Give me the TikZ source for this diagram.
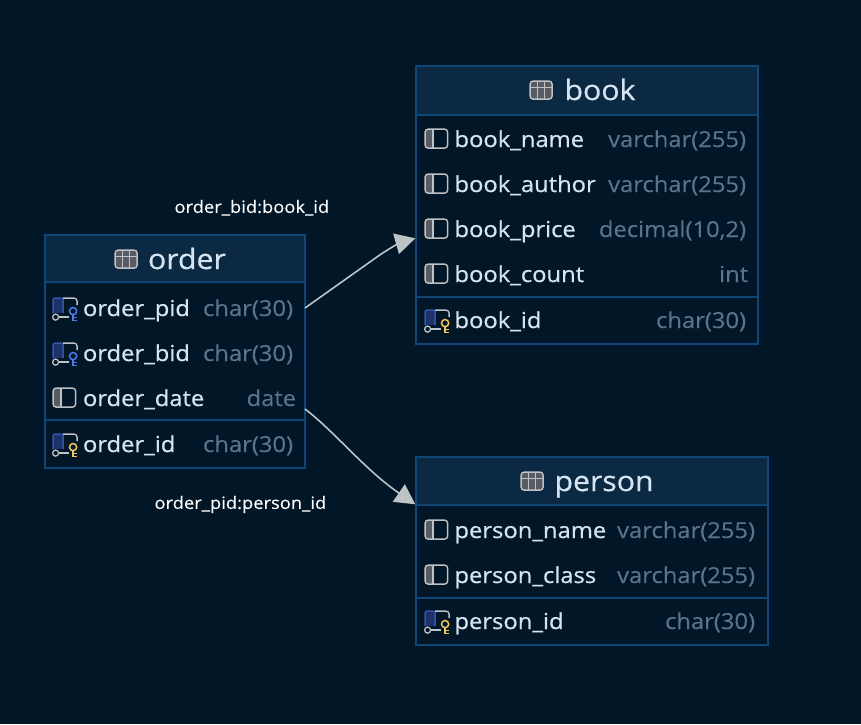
\documentclass[tikz,border=0pt]{standalone}
\usepackage{fontspec}
\setmainfont[FakeStretch=1.08,FakeBold=0.15]{Open Sans}
\newfontfamily\namefont[FakeBold=0.6,FakeStretch=1.08]{Open Sans}
\usetikzlibrary{arrows.meta}
\definecolor{bgc}{RGB}{1,22,39}
\definecolor{headc}{RGB}{11,41,66}
\definecolor{edgec}{RGB}{14,70,118}
\definecolor{txtc}{RGB}{214,227,240}
\definecolor{typec}{RGB}{90,116,140}
\definecolor{icoc}{RGB}{190,193,197}
\definecolor{icof}{RGB}{88,92,98}
\definecolor{bluec}{RGB}{50,84,170}
\definecolor{bandc}{RGB}{30,50,105}
\definecolor{fkc}{RGB}{70,125,235}
\definecolor{pkc}{RGB}{240,200,90}
\definecolor{linec}{RGB}{190,195,198}
\tikzset{
  x=1pt,y=-1pt,
  every pic/.style={shift={(0.8,0.8)}},
  tablebox/.style={draw=edgec,line width=1.4pt,fill=bgc,inner sep=0pt,anchor=north west},
  headbox/.style={draw=edgec,line width=1.4pt,fill=headc,inner sep=0pt,anchor=north west},
  sepline/.style={draw=edgec,line width=1.8pt},
  title/.style={inner sep=0pt,anchor=base west,yshift=-0.7pt,text=txtc,font=\fontsize{28}{30}\selectfont\namefont},
  colname/.style={inner sep=0pt,anchor=base west,yshift=-0.7pt,text=txtc,font=\fontsize{22}{26}\selectfont\namefont},
  coltype/.style={inner sep=0pt,anchor=base east,yshift=-0.7pt,text=typec,font=\fontsize{22}{26}\selectfont},
  rel/.style={inner sep=0pt,anchor=base west,yshift=-1.6pt,text=white,font=\fontsize{17}{20}\selectfont},
  conn/.style={draw=linec,line width=1.6pt,-{Triangle[length=20pt,width=21pt,fill=linec]}},
  colicon/.pic={
    \draw[fill=icof,draw=none,rounded corners=3pt] (0,0) rectangle (9,19);
    \draw[icoc,line width=1.4pt,rounded corners=3pt] (0,0) rectangle (22.5,19);
    \draw[icoc,line width=1.4pt] (8,0) -- (8,19);
  },
  tableicon/.pic={
    \fill[icof,rounded corners=3pt] (0,0) rectangle (22,18);
    \draw[icoc,line width=1.4pt,rounded corners=3pt] (0,0) rectangle (22,18);
    \draw[icoc,line width=1.2pt] (0,6) -- (22,6) (7.3,0) -- (7.3,18) (14.7,0) -- (14.7,18);
  },
  pics/keyicon/.style={code={
    \fill[bandc] (0,0) rectangle (10,15);
    \draw[bluec,line width=1.4pt,rounded corners=1.5pt] (0,15) -- (0,0) -- (10,0) -- (10,15);
    \draw[icoc,line width=1.3pt,rounded corners=3pt] (10,0) -- (24,0) -- (24,7);
    \draw[icoc,line width=1.3pt] (2.5,19) circle (3pt);
    \draw[icoc,line width=1.3pt] (5.5,19) -- (16,19);
    \draw[#1,line width=1.5pt] (20,13) circle (3.6pt);
    \draw[#1,line width=1.5pt] (20,16.6) -- (20,22.5) (20,19.5) -- (24,19.5) (20,22.5) -- (24,22.5);
  }},
}
\begin{document}
\begin{tikzpicture}
\useasboundingbox[fill=bgc] (0,0) rectangle (861,724);
\begin{scope}[shift={(-0.7,-0.7)}]
% order
\node[tablebox,minimum width=260pt,minimum height=233pt] (order) at (45,235) {};
\node[headbox,minimum width=260pt,minimum height=47pt] (orderhead) at (45,235) {};
\coordinate (orderline) at (45,421);
\draw[sepline] (orderline) -- (order.east |- orderline);
\pic at (115,250) {tableicon};
\node[title] (ordertitle) at (148.5,269) {order};
\pic at (53,298) {keyicon=fkc};
\node[colname] (n1) at (83.5,316) {order\_pid};
\node[coltype] (t1) at (294,316) {char(30)};
\pic at (53,343) {keyicon=fkc};
\node[colname] (n2) at (83.5,361) {order\_bid};
\node[coltype] (t2) at (294,361) {char(30)};
\pic at (53,388) {colicon};
\node[colname] (n3) at (83.5,406) {order\_date};
\node[coltype] (t3) at (297,406) {date};
\pic at (53,434) {keyicon=pkc};
\node[colname] (n4) at (83.5,452) {order\_id};
\node[coltype] (t4) at (294,452) {char(30)};

% book
\node[tablebox,minimum width=342pt,minimum height=278pt] (book) at (416,66) {};
\node[headbox,minimum width=342pt,minimum height=49pt] (bookhead) at (416,66) {};
\coordinate (bookline) at (416,297.5);
\draw[sepline] (bookline) -- (book.east |- bookline);
\pic at (530,81) {tableicon};
\node[title] (booktitle) at (565,100) {book};
\pic at (425,129) {colicon};
\node[colname] (n5) at (455,147) {book\_name};
\node[coltype] (t5) at (747,147) {varchar(255)};
\pic at (425,174) {colicon};
\node[colname] (n6) at (455,192) {book\_author};
\node[coltype] (t6) at (747,192) {varchar(255)};
\pic at (425,219) {colicon};
\node[colname] (n7) at (455,237) {book\_price};
\node[coltype] (t7) at (747,237) {decimal(10,2)};
\pic at (425,264) {colicon};
\node[colname] (n8) at (455,282) {book\_count};
\node[coltype] (t8) at (749,282) {int};
\pic at (425,310) {keyicon=pkc};
\node[colname] (n9) at (455,328) {book\_id};
\node[coltype] (t9) at (747,328) {char(30)};

% person
\node[tablebox,minimum width=352pt,minimum height=188pt] (person) at (416,457) {};
\node[headbox,minimum width=352pt,minimum height=48pt] (personhead) at (416,457) {};
\coordinate (personline) at (416,598.5);
\draw[sepline] (personline) -- (person.east |- personline);
\pic at (521,472) {tableicon};
\node[title] (persontitle) at (555,491) {person};
\pic at (425,520) {colicon};
\node[colname] (n10) at (455,538) {person\_name};
\node[coltype] (t10) at (756,538) {varchar(255)};
\pic at (425,565) {colicon};
\node[colname] (n11) at (455,583) {person\_class};
\node[coltype] (t11) at (756,583) {varchar(255)};
\pic at (425,611) {keyicon=pkc};
\node[colname] (n12) at (455,629) {person\_id};
\node[coltype] (t12) at (756,629) {char(30)};

% relations
\coordinate (srcbook) at (305.7,308.7);
\coordinate (dstbook) at (416,239);
\coordinate (srcperson) at (305.7,409.7);
\coordinate (dstperson) at (416,505);
\draw[conn] (srcbook) -- (380,256) .. controls (390,249) and (402,243) .. (dstbook);
\draw[conn] (srcperson) .. controls (335,432) and (365,470) .. (dstperson);
\node[rel] (relbook) at (175,212) {order\_bid:book\_id};
\node[rel] (relperson) at (155,508) {order\_pid:person\_id};
\end{scope}
\end{tikzpicture}
\end{document}
